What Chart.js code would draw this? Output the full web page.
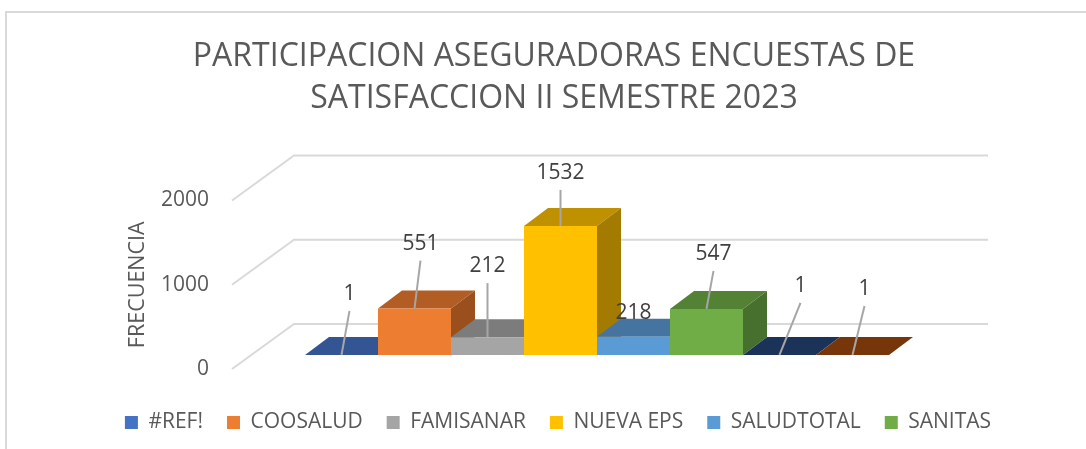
<!DOCTYPE html>
<html>
<head>
<meta charset="utf-8">
<style>
  html, body { margin: 0; padding: 0; background: #fff; overflow: hidden; width: 1086px; height: 449px; }
  #frame { position: absolute; left: 5px; top: 11px; width: 1090px; height: 445px; border-left: 2px solid #d9d9d9; border-top: 2px solid #d9d9d9; box-sizing: border-box; }
  #chart { position: absolute; left: 0; top: 0; }
</style>
<script src="https://cdn.jsdelivr.net/npm/chart.js@4"></script>
</head>
<body>
<div id="frame"></div>
<canvas id="chart" width="1108" height="449"></canvas>
<script>
const categories = ["II SEMESTRE 2023"];
const seriesNames = ["#REF!", "COOSALUD", "FAMISANAR", "NUEVA EPS", "SALUDTOTAL", "SANITAS", "", ""];
const seriesValues = [1, 551, 212, 1532, 218, 547, 1, 1];
const yTicks = [0, 1000, 2000];

const frontColors = ["#4472c4", "#ed7d31", "#a5a5a5", "#ffc000", "#5b9bd5", "#70ad47", "#264478", "#9e480e"];
const topColors = ["#335593", "#b25d24", "#7c7c7c", "#bf9000", "#44749f", "#548235", "#1c3359", "#77360a"];
const sideColors = ["#2b4a80", "#9a4f1d", "#6b6b6b", "#a37b00", "#3b6489", "#476f2d", "#182c4d", "#662e09"];

// leader line end relative to the top of each bar, [dx, dy]
const leaderEnds = [[8, -44], [6, -48], [0, -54], [0, -36], [0, -7], [7, -38], [21, -52], [12, -49]];

const FONT = '"Open Sans", sans-serif';
const DEPTH_X = 24, DEPTH_Y = 18;    // depth of a bar
const FLOOR_X = 62, FLOOR_Y = 45;    // depth of the floor
const SHIFT_X = 18, SHIFT_Y = -14;   // bars sit inside the floor

function poly(ctx, pts, color) {
    ctx.beginPath();
    pts.forEach((p, i) => i ? ctx.lineTo(p[0], p[1]) : ctx.moveTo(p[0], p[1]));
    ctx.closePath();
    ctx.fillStyle = color;
    ctx.fill();
}

const threeD = {
    id: "threeD",
    afterLayout(chart) {
        // legend sits a little right of the title in the original
        chart.legend.left += 4;
        chart.legend.right += 4;
    },
    beforeDatasetsDraw(chart) {
        const { ctx, chartArea, scales } = chart;

        // back wall and left side lines
        ctx.save();
        ctx.strokeStyle = "#d9d9d9";
        ctx.lineWidth = 2;
        yTicks.forEach(v => {
            const y = scales.y.getPixelForValue(v);
            ctx.beginPath();
            ctx.moveTo(chartArea.left, y);
            ctx.lineTo(chartArea.left + FLOOR_X, y - FLOOR_Y);
            ctx.lineTo(chartArea.right + FLOOR_X, y - FLOOR_Y);
            ctx.stroke();
        });
        ctx.restore();

        ctx.save();
        ctx.translate(SHIFT_X, SHIFT_Y);
        seriesValues.forEach((v, i) => {
            const bar = chart.getDatasetMeta(i).data[0];
            const l = bar.x - bar.width / 2, r = bar.x + bar.width / 2;
            const t = bar.y, b = bar.base;
            poly(ctx, [[l, t], [l + DEPTH_X, t - DEPTH_Y], [r + DEPTH_X, t - DEPTH_Y], [r, t]], topColors[i]);
            poly(ctx, [[r, t], [r + DEPTH_X, t - DEPTH_Y], [r + DEPTH_X, b - DEPTH_Y], [r, b]], sideColors[i]);
        });
        // fronts are drawn by the library inside this translate
    },
    afterDatasetsDraw(chart) {
        const { ctx } = chart;
        ctx.restore();

        ctx.save();
        ctx.translate(SHIFT_X, SHIFT_Y);
        ctx.font = "21px " + FONT;
        ctx.fillStyle = "#404040";
        ctx.textAlign = "center";
        ctx.textBaseline = "middle";
        ctx.strokeStyle = "#a6a6a6";
        ctx.lineWidth = 2;
        seriesValues.forEach((v, i) => {
            const bar = chart.getDatasetMeta(i).data[0];
            const ex = bar.x + leaderEnds[i][0], ey = bar.y + leaderEnds[i][1];
            if (leaderEnds[i][1] < -10) {
                ctx.beginPath();
                ctx.moveTo(bar.x, bar.y);
                ctx.lineTo(ex, ey);
                ctx.stroke();
            }
            ctx.fillText(String(v), ex, ey - 17);
        });
        ctx.restore();
    }
};

new Chart(document.getElementById("chart").getContext("2d"), {
    type: "bar",
    data: {
        labels: categories,
        datasets: seriesValues.map((v, i) => ({
            label: seriesNames[i],
            data: [v],
            backgroundColor: frontColors[i],
            borderWidth: 0
        }))
    },
    options: {
        responsive: false,
        animation: false,
        barPercentage: 1,
        categoryPercentage: 0.8415,
        layout: { padding: { left: 0, right: 0, top: 0, bottom: 6 } },
        plugins: {
            title: {
                display: true,
                text: ["PARTICIPACION ASEGURADORAS ENCUESTAS DE", "SATISFACCION II SEMESTRE 2023"],
                color: "#595959",
                font: { family: FONT, size: 32, weight: "normal", lineHeight: 1.32 },
                padding: { top: 36, bottom: 80 }
            },
            legend: {
                position: "bottom",
                labels: {
                    color: "#595959",
                    font: { family: FONT, size: 21 },
                    boxWidth: 13,
                    boxHeight: 13,
                    padding: 24,
                    filter: item => item.text !== ""
                }
            },
            tooltip: { enabled: false }
        },
        scales: {
            // no labels, only holds the gap between the floor and the legend
            x: {
                afterFit: s => { s.height = 19; },
                grid: { display: false },
                border: { display: false },
                ticks: { display: false }
            },
            y: {
                min: 0,
                max: 2000,
                afterFit: s => { s.width = 232; },
                grid: { display: false },
                border: { display: false },
                afterBuildTicks: s => { s.ticks = yTicks.map(v => ({ value: v })); },
                ticks: {
                    callback: v => String(v),
                    color: "#595959",
                    font: { family: FONT, size: 21 },
                    padding: 15
                },
                title: {
                    display: true,
                    text: "FRECUENCIA",
                    color: "#595959",
                    font: { family: FONT, size: 21.5 },
                    padding: { top: 125, bottom: 0 }
                }
            },
            // empty axis, keeps the plot clear of the right edge without squeezing the legend
            y2: {
                position: "right",
                min: 0,
                max: 2000,
                afterFit: s => { s.width = 182; },
                grid: { display: false },
                border: { display: false },
                ticks: { display: false }
            }
        }
    },
    plugins: [threeD]
});
</script>
</body>
</html>
